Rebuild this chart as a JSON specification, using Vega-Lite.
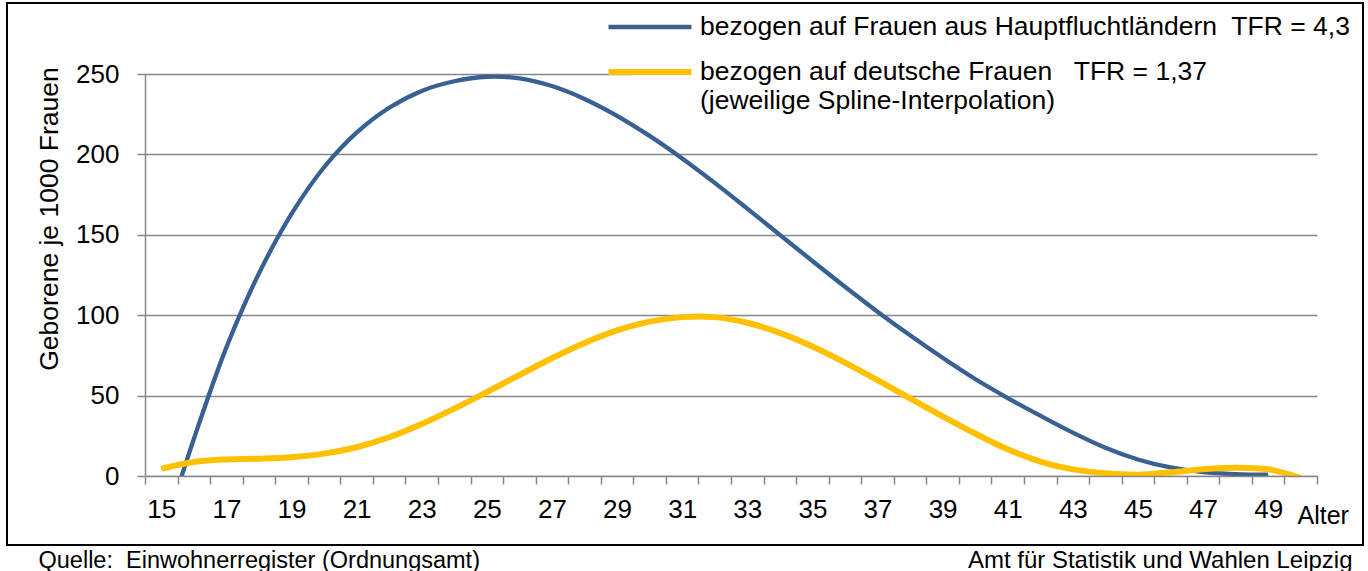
{
  "$schema": "https://vega.github.io/schema/vega-lite/v6.json",
  "width": 1356,
  "height": 542,
  "autosize": {"type": "none"},
  "padding": {"left": 7, "top": 3, "right": 5, "bottom": 26},
  "background": "white",
  "config": {
    "view": {"stroke": "black", "strokeWidth": 2},
    "font": "Liberation Sans",
    "axis": {"labelFont": "Liberation Sans", "titleFont": "Liberation Sans", "labelColor": "black", "titleColor": "black", "titleFontWeight": "normal"},
    "legend": {"labelFont": "Liberation Sans", "labelColor": "black"}
  },
  "data": {
    "values": [
      {"age": 15, "value": -40, "series": "Hauptfluchtländer"},
      {"age": 16, "value": 23, "series": "Hauptfluchtländer"},
      {"age": 17, "value": 80, "series": "Hauptfluchtländer"},
      {"age": 18, "value": 126, "series": "Hauptfluchtländer"},
      {"age": 19, "value": 163, "series": "Hauptfluchtländer"},
      {"age": 20, "value": 192, "series": "Hauptfluchtländer"},
      {"age": 21, "value": 213.5, "series": "Hauptfluchtländer"},
      {"age": 22, "value": 229, "series": "Hauptfluchtländer"},
      {"age": 23, "value": 239.5, "series": "Hauptfluchtländer"},
      {"age": 24, "value": 245.5, "series": "Hauptfluchtländer"},
      {"age": 25, "value": 248.3, "series": "Hauptfluchtländer"},
      {"age": 26, "value": 247.3, "series": "Hauptfluchtländer"},
      {"age": 27, "value": 242.5, "series": "Hauptfluchtländer"},
      {"age": 28, "value": 234.5, "series": "Hauptfluchtländer"},
      {"age": 29, "value": 224, "series": "Hauptfluchtländer"},
      {"age": 30, "value": 211.5, "series": "Hauptfluchtländer"},
      {"age": 31, "value": 197.5, "series": "Hauptfluchtländer"},
      {"age": 32, "value": 182.3, "series": "Hauptfluchtländer"},
      {"age": 33, "value": 166.3, "series": "Hauptfluchtländer"},
      {"age": 34, "value": 150, "series": "Hauptfluchtländer"},
      {"age": 35, "value": 133.7, "series": "Hauptfluchtländer"},
      {"age": 36, "value": 117.7, "series": "Hauptfluchtländer"},
      {"age": 37, "value": 102.2, "series": "Hauptfluchtländer"},
      {"age": 38, "value": 87.5, "series": "Hauptfluchtländer"},
      {"age": 39, "value": 73.5, "series": "Hauptfluchtländer"},
      {"age": 40, "value": 60.3, "series": "Hauptfluchtländer"},
      {"age": 41, "value": 48.5, "series": "Hauptfluchtländer"},
      {"age": 42, "value": 37.5, "series": "Hauptfluchtländer"},
      {"age": 43, "value": 27, "series": "Hauptfluchtländer"},
      {"age": 44, "value": 17.6, "series": "Hauptfluchtländer"},
      {"age": 45, "value": 10.3, "series": "Hauptfluchtländer"},
      {"age": 46, "value": 5.3, "series": "Hauptfluchtländer"},
      {"age": 47, "value": 2.4, "series": "Hauptfluchtländer"},
      {"age": 48, "value": 1.2, "series": "Hauptfluchtländer"},
      {"age": 49, "value": 0.8, "series": "Hauptfluchtländer"},
      {"age": 15, "value": 4.5, "series": "Deutsche"},
      {"age": 16, "value": 8.7, "series": "Deutsche"},
      {"age": 17, "value": 10.3, "series": "Deutsche"},
      {"age": 18, "value": 10.8, "series": "Deutsche"},
      {"age": 19, "value": 11.7, "series": "Deutsche"},
      {"age": 20, "value": 13.9, "series": "Deutsche"},
      {"age": 21, "value": 17.9, "series": "Deutsche"},
      {"age": 22, "value": 24.1, "series": "Deutsche"},
      {"age": 23, "value": 32.3, "series": "Deutsche"},
      {"age": 24, "value": 41.9, "series": "Deutsche"},
      {"age": 25, "value": 52.2, "series": "Deutsche"},
      {"age": 26, "value": 62.8, "series": "Deutsche"},
      {"age": 27, "value": 73.2, "series": "Deutsche"},
      {"age": 28, "value": 82.7, "series": "Deutsche"},
      {"age": 29, "value": 90.5, "series": "Deutsche"},
      {"age": 30, "value": 96, "series": "Deutsche"},
      {"age": 31, "value": 98.8, "series": "Deutsche"},
      {"age": 32, "value": 98.8, "series": "Deutsche"},
      {"age": 33, "value": 95.3, "series": "Deutsche"},
      {"age": 34, "value": 89, "series": "Deutsche"},
      {"age": 35, "value": 80.5, "series": "Deutsche"},
      {"age": 36, "value": 70.5, "series": "Deutsche"},
      {"age": 37, "value": 59.6, "series": "Deutsche"},
      {"age": 38, "value": 48.3, "series": "Deutsche"},
      {"age": 39, "value": 37.1, "series": "Deutsche"},
      {"age": 40, "value": 26.4, "series": "Deutsche"},
      {"age": 41, "value": 16.6, "series": "Deutsche"},
      {"age": 42, "value": 9, "series": "Deutsche"},
      {"age": 43, "value": 4.1, "series": "Deutsche"},
      {"age": 44, "value": 1.7, "series": "Deutsche"},
      {"age": 45, "value": 0.8, "series": "Deutsche"},
      {"age": 46, "value": 2.3, "series": "Deutsche"},
      {"age": 47, "value": 4.2, "series": "Deutsche"},
      {"age": 48, "value": 5.2, "series": "Deutsche"},
      {"age": 49, "value": 4.2, "series": "Deutsche"},
      {"age": 50, "value": -1.3, "series": "Deutsche"}
    ]
  },
  "layer": [
    {
      "mark": {"type": "line", "interpolate": "catmull-rom"},
      "encoding": {
        "x": {
          "field": "age",
          "type": "quantitative",
          "scale": {"domain": [14.5, 50.5], "range": [138, 1310], "nice": false, "zero": false},
          "axis": {
            "orient": "bottom",
            "offset": -69,
            "values": [14.5, 15.5, 16.5, 17.5, 18.5, 19.5, 20.5, 21.5, 22.5, 23.5, 24.5, 25.5, 26.5, 27.5, 28.5, 29.5, 30.5, 31.5, 32.5, 33.5, 34.5, 35.5, 36.5, 37.5, 38.5, 39.5, 40.5, 41.5, 42.5, 43.5, 44.5, 45.5, 46.5, 47.5, 48.5, 49.5, 50.5],
            "labelExpr": "(datum.value - 14.5) % 2 == 0 && datum.value < 50 ? format(datum.value + 0.5, 'd') : ''",
            "labelOffset": 16.28,
            "labelFontSize": 26,
            "labelBaseline": "alphabetic",
            "labelPadding": 33,
            "labelOverlap": false,
            "labelFlush": false,
            "tickSize": 8,
            "tickColor": "#868686",
            "tickWidth": 1.5,
            "domainColor": "#868686",
            "domainWidth": 1.5,
            "grid": false,
            "title": "Alter",
            "titleFontSize": 25,
            "titleX": 1290,
            "titleY": 47,
            "titleAlign": "left",
            "titleBaseline": "alphabetic",
            "zindex": 1
          }
        },
        "y": {
          "field": "value",
          "type": "quantitative",
          "scale": {"domain": [0, 250], "range": [473, 71], "nice": false, "zero": false},
          "axis": {
            "orient": "left",
            "offset": -138,
            "values": [0, 50, 100, 150, 200, 250],
            "labelFontSize": 26,
            "labelPadding": 18,
            "tickSize": 8,
            "tickColor": "#868686",
            "tickWidth": 1.5,
            "domainColor": "#868686",
            "domainWidth": 1.5,
            "grid": true,
            "gridColor": "#868686",
            "gridWidth": 1.5,
            "title": "Geborene je 1000 Frauen",
            "titleFontSize": 26.5,
            "titleAngle": 270,
            "titleX": -88,
            "titleY": 215.5,
            "titleAlign": "center",
            "titleBaseline": "alphabetic"
          }
        },
        "color": {
          "field": "series",
          "type": "nominal",
          "scale": {"domain": ["Hauptfluchtländer", "Deutsche"], "range": ["#386092", "#FFC000"]},
          "legend": {
            "orient": "none",
            "direction": "vertical",
            "legendX": 626,
            "legendY": 8,
            "title": null,
            "symbolType": "M-3,0H3",
            "symbolSize": 765,
            "symbolStrokeWidth": 5.5,
            "labelFontSize": 26.5,
            "labelOffset": 33,
            "labelLimit": 2000,
            "rowPadding": 14,
            "fillColor": "white",
            "padding": 0,
            "labelExpr": "datum.label == 'Hauptfluchtländer' ? 'bezogen auf Frauen aus Hauptfluchtländern\u00a0 TFR = 4,3' : ['bezogen auf deutsche Frauen\u00a0\u00a0 TFR = 1,37', '(jeweilige Spline-Interpolation)']"
          }
        },
        "strokeWidth": {
          "field": "series",
          "type": "ordinal",
          "scale": {"domain": ["Hauptfluchtländer", "Deutsche"], "range": [4.3, 6]},
          "legend": null
        }
      }
    },
    {
      "data": {"values": [{"mask": 1}]},
      "mark": {"type": "rect", "fill": "white"},
      "encoding": {
        "x": {
          "datum": 14.5,
          "type": "quantitative",
          "axis": {
            "orient": "bottom",
            "domain": false,
            "ticks": false,
            "labels": false,
            "grid": false,
            "title": "Quelle:\u00a0 Einwohnerregister (Ordnungsamt)",
            "titleFontSize": 23.5,
            "titleX": 31,
            "titleY": 22,
            "titleAlign": "left",
            "titleBaseline": "alphabetic"
          }
        },
        "x2": {"datum": 50.5},
        "y": {
          "datum": 0,
          "type": "quantitative",
          "axis": {
            "orient": "right",
            "domain": false,
            "ticks": false,
            "labels": false,
            "grid": false,
            "title": "Amt für Statistik und Wahlen Leipzig",
            "titleFontSize": 24,
            "titleAngle": 0,
            "titleX": -11,
            "titleY": 564,
            "titleAlign": "right",
            "titleBaseline": "alphabetic"
          }
        },
        "y2": {"datum": -42}
      }
    }
  ],
  "resolve": {"axis": {"x": "independent", "y": "independent"}}
}
